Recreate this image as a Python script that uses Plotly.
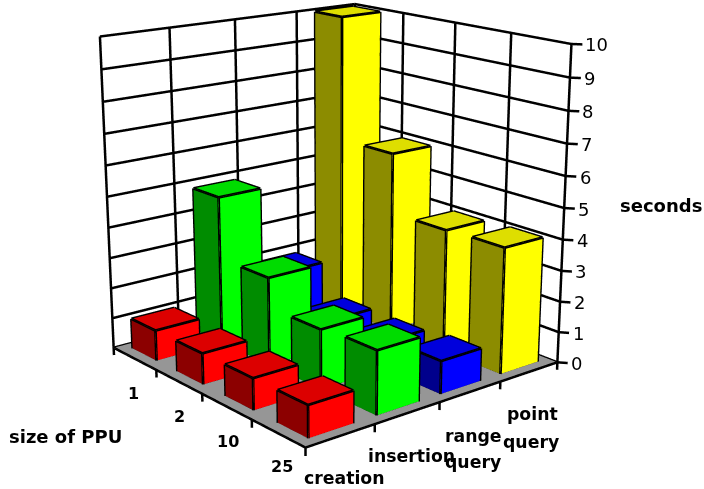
import numpy as np
import plotly.graph_objects as go

# ---- data ----
ppu_sizes = ["1", "2", "10", "25"]
operations = ["creation", "insertion", "range query", "point query"]
creation = [1.0, 1.0, 1.0, 1.0]
insertion = [4.85, 2.85, 1.9, 2.0]
range_query = [1.85, 0.9, 0.9, 1.05]
point_query = [10.0, 5.95, 4.0, 4.05]
z_ticks = list(range(0, 11))
series = [creation, insertion, range_query, point_query]

# ---- styles: (left face, top face, right face) ----
colors = [("#8c0000", "#dc0000", "#ff0000"),
          ("#008c00", "#00dc00", "#00ff00"),
          ("#00008c", "#0000dc", "#0000ff"),
          ("#8c8c00", "#dede00", "#ffff00")]
FLOOR = "#969696"
BAR_WX, BAR_WY, BAR_Y_SHIFT, BAR_Y_STEP = 0.65, 0.56, -0.045, 1.03
FOCAL, AZ, EL = 1600.0, np.radians(39.4), np.radians(17.3)
PX, PY = 335.0, 244.5
LEN_X, LEN_Y, LEN_Z = 0.2285, 0.2251, 0.2282
T = 4.4
X_R, Y_R, Z_R = [-0.6, 3.75], [-0.75, 3.6], [-0.35, 10.1]
H = 1326
W = round(H * 704 / 489)

fig = go.Figure()
nc, ns = len(ppu_sizes), len(operations)
ypos = lambda i: nc - 1 - i

# bars
edge_x, edge_y, edge_z = [], [], []
def seg(a, b):
    edge_x.extend([a[0], b[0], None]); edge_y.extend([a[1], b[1], None]); edge_z.extend([a[2], b[2], None])

for j, vals in enumerate(series):
    vx, vy, vz, I, J, K, fc = [], [], [], [], [], [], []
    for i, v in enumerate(vals):
        x0, x1 = j - BAR_WX / 2, j + BAR_WX / 2
        yc = ypos(i) * BAR_Y_STEP + BAR_Y_SHIFT
        y0, y1 = yc - BAR_WY / 2, yc + BAR_WY / 2
        n = len(vx)
        corners = [(x0, y0, 0), (x1, y0, 0), (x1, y1, 0), (x0, y1, 0),
                   (x0, y0, v), (x1, y0, v), (x1, y1, v), (x0, y1, v)]
        for c in corners:
            vx.append(c[0]); vy.append(c[1]); vz.append(c[2])
        faces = [((0, 3, 7), 0), ((0, 7, 4), 0),      # x = x0, left
                 ((0, 1, 5), 2), ((0, 5, 4), 2),      # y = y0, right
                 ((4, 5, 6), 1), ((4, 6, 7), 1),      # top
                 ((1, 2, 6), 2), ((1, 6, 5), 2),
                 ((3, 2, 6), 0), ((3, 6, 7), 0)]
        for (p, q, r), shade in faces:
            I.append(n + p); J.append(n + q); K.append(n + r); fc.append(colors[j][shade])
        for p, q in [(0, 1), (1, 2), (2, 3), (3, 0), (4, 5), (5, 6), (6, 7), (7, 4), (0, 4), (1, 5), (2, 6), (3, 7)]:
            seg(corners[p], corners[q])
    fig.add_trace(go.Mesh3d(x=vx, y=vy, z=vz, i=I, j=J, k=K, facecolor=fc, flatshading=True,
                            lighting=dict(ambient=1, diffuse=0, specular=0, fresnel=0, roughness=1),
                            hoverinfo="skip", showscale=False))

# floor
x_lo, x_hi, y_lo, y_hi = -0.5, ns - 0.5, -0.5, nc - 0.5
fig.add_trace(go.Mesh3d(x=[x_lo, x_hi, x_hi, x_lo], y=[y_lo, y_lo, y_hi, y_hi], z=[0, 0, 0, 0],
                        i=[0, 0], j=[1, 2], k=[2, 3], facecolor=[FLOOR, FLOOR], flatshading=True,
                        lighting=dict(ambient=1, diffuse=0, specular=0, fresnel=0, roughness=1),
                        hoverinfo="skip", showscale=False))

fig.add_trace(go.Scatter3d(x=edge_x, y=edge_y, z=edge_z, mode="lines",
                           line=dict(color="black", width=5.5), hoverinfo="skip", showlegend=False))

# walls, grid and ticks
gx, gy, gz = [], [], []
def gseg(a, b):
    gx.extend([a[0], b[0], None]); gy.extend([a[1], b[1], None]); gz.extend([a[2], b[2], None])
for t in z_ticks:
    gseg((x_lo, y_hi, t), (x_hi, y_hi, t))
    gseg((x_hi, y_hi, t), (x_hi, y_lo, t))
    gseg((x_hi, y_lo, t), (x_hi + 0.08, y_lo - 0.1, t))
for k in range(ns + 1):
    gseg((x_lo + k, y_hi, 0), (x_lo + k, y_hi, 10))
    gseg((x_lo + k, y_lo, 0), (x_lo + k, y_lo, -0.25))
for k in range(nc + 1):
    gseg((x_hi, y_lo + k, 0), (x_hi, y_lo + k, 10))
    gseg((x_lo, y_lo + k, 0), (x_lo, y_lo + k, -0.25))
gseg((x_lo, y_lo, 0), (x_hi, y_lo, 0))
gseg((x_lo, y_lo, 0), (x_lo, y_hi, 0))
fig.add_trace(go.Scatter3d(x=gx, y=gy, z=gz, mode="lines", line=dict(color="black", width=5),
                           hoverinfo="skip", showlegend=False))

# labels
anns = []
def label(x, y, z, text, dx, dy, size=16, bold=True, anchor="center"):
    anns.append(dict(x=x, y=y, z=z, text=f"<b>{text}</b>" if bold else text, showarrow=False,
                     xanchor=anchor, yanchor="middle", xshift=dx, yshift=-dy,
                     font=dict(family="DejaVu Sans", size=size, color="#000000")))
for t in z_ticks:
    label(x_hi, y_lo, t, str(t), 12, 1, size=18, bold=False, anchor="left")
cat_shift = [(-1, 35), (1, 35), (1, 35), (4, 33)]
for i, name in enumerate(ppu_sizes):
    label(x_lo, ypos(i), 0, name, cat_shift[i][0], cat_shift[i][1])
series_shift = [[(4, 42)], [(4, 43)], [(3, 44), (3, 70)], [(3, 42), (2, 70)]]
for j, name in enumerate(operations):
    for word, (dx, dy) in zip(name.split(" "), series_shift[j]):
        label(j, y_lo, 0, word, dx, dy, size=17.3)
label(x_lo, 1.5, 0, "size of PPU", -136.5, 43, size=18)
label(x_hi, y_lo, 5, "seconds", 97, -3, size=18)

# camera, solved from the chart's floor and wall corners
r = np.array([np.cos(AZ), -np.sin(AZ), 0.0])
fwd = np.array([np.sin(AZ) * np.cos(EL), np.cos(AZ) * np.cos(EL), -np.sin(EL)])
u = np.array([np.sin(AZ) * np.sin(EL), np.cos(AZ) * np.sin(EL), np.cos(EL)])
sx, sy, sz = T * LEN_X / ns, T * LEN_Y / nc, T * LEN_Z / 10
cam = T * (-(-30 / FOCAL) * r - (-202.5 / FOCAL) * u - fwd)
box = np.array([(sum(X_R) / 2 + 0.5) * sx, (sum(Y_R) / 2 + 0.5) * sy, (sum(Z_R) / 2) * sz])
eye = cam - box
look = eye + fwd * T * 1.13
xyz = lambda v: dict(x=float(v[0]), y=float(v[1]), z=float(v[2]))
hidden = dict(visible=False)
fig.update_layout(
    width=W, height=H, margin=dict(l=0, r=0, t=0, b=0), paper_bgcolor="white", showlegend=False,
    scene=dict(
        domain=dict(x=[0, 1], y=[0, 1]), bgcolor="white", annotations=anns,
        xaxis=dict(range=X_R, **hidden), yaxis=dict(range=Y_R, **hidden), zaxis=dict(range=Z_R, **hidden),
        aspectmode="manual",
        aspectratio=dict(x=sx * (X_R[1] - X_R[0]), y=sy * (Y_R[1] - Y_R[0]), z=sz * (Z_R[1] - Z_R[0])),
        camera=dict(eye=xyz(eye), center=xyz(look), up=dict(x=0, y=0, z=1)),
    ),
)
post = f"""
var gd = document.getElementById('{{plot_id}}');
document.documentElement.style.overflow = 'hidden';
document.body.style.overflow = 'hidden';
gd.style.position = 'absolute';
gd.style.left = '{PX - W / 2}px';
gd.style.top = '{PY - H / 2}px';
"""
fig.write_html("out.html", config=dict(displayModeBar=False), post_script=post)
